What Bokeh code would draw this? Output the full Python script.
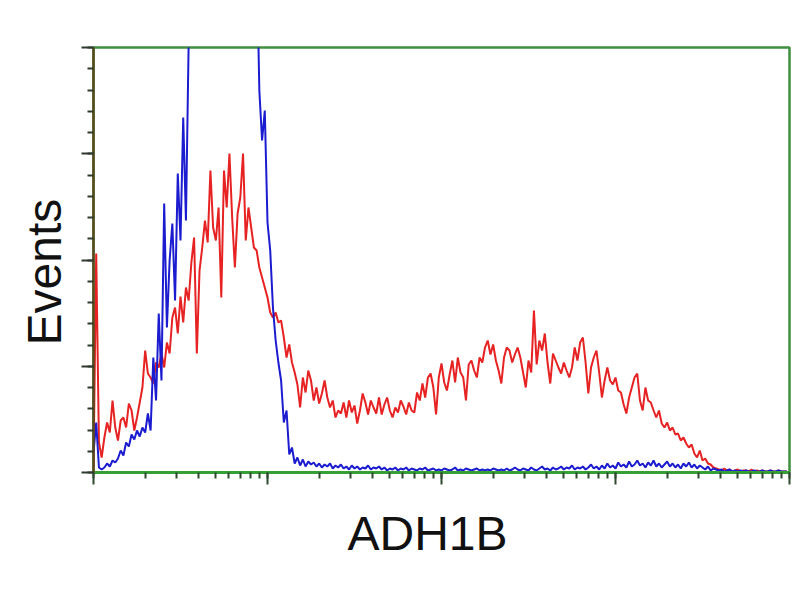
from bokeh.plotting import figure
from bokeh.models import FixedTicker, Range1d, CustomJSTickFormatter, Title
from bokeh.embed import file_html
from bokeh.resources import INLINE

x_label = "ADH1B"
y_label = "Events"
channels_per_decade = 64
n_decades = 4
y_max = 425
y_major = [0, 106.25, 212.5, 318.75, 425]
y_minor_step = 21.25

red_counts = [
    5, 219, 30, 15, 35, 50, 40, 72, 45, 32, 52, 55, 45, 69, 62, 42,
    55, 70, 85, 122, 99, 95, 89, 110, 105, 119, 105, 130, 119, 155, 165, 139,
    176, 150, 185, 172, 210, 235, 119, 202, 225, 252, 230, 302, 245, 232, 265, 175,
    302, 265, 319, 255, 205, 259, 275, 319, 232, 265, 245, 225, 222, 205, 195, 185,
    175, 160, 155, 160, 150, 152, 135, 115, 128, 110, 100, 88, 65, 95, 80, 102,
    92, 72, 85, 69, 79, 92, 75, 65, 72, 55, 62, 59, 70, 55, 72, 60,
    67, 49, 62, 79, 70, 58, 72, 65, 59, 75, 58, 68, 75, 62, 55, 65,
    60, 72, 66, 58, 70, 62, 60, 80, 72, 89, 75, 95, 99, 85, 58, 95,
    109, 90, 82, 98, 112, 90, 115, 100, 95, 72, 108, 112, 102, 95, 115, 110,
    125, 132, 118, 128, 112, 102, 89, 115, 125, 122, 110, 118, 125, 115, 100, 85,
    112, 100, 162, 108, 132, 122, 139, 110, 89, 119, 112, 105, 99, 110, 102, 95,
    105, 125, 112, 130, 135, 110, 79, 105, 115, 122, 100, 75, 92, 105, 92, 88,
    95, 82, 80, 68, 59, 75, 85, 95, 99, 72, 62, 85, 72, 70, 62, 55,
    62, 49, 45, 50, 42, 45, 38, 39, 32, 35, 29, 25, 28, 19, 15, 22,
    12, 14, 9, 8, 5, 4, 3, 2, 4, 2, 3, 1, 2, 3, 1, 2,
    2, 1, 3, 1, 2, 1, 2, 1, 1, 2, 1, 1, 2, 1, 1, 1,
]

blue_counts = [
    20, 50, 5, 3, 5, 9, 6, 12, 10, 14, 22, 17, 30, 26, 38, 33,
    42, 36, 45, 40, 59, 42, 115, 72, 159, 92, 269, 145, 212, 249, 172, 299,
    232, 355, 252, 430, 520, 610, 680, 740, 790, 830, 860, 900, 880, 910, 930, 900,
    920, 940, 910, 890, 900, 870, 850, 820, 780, 740, 690, 620, 520, 382, 332, 362,
    250, 222, 165, 132, 110, 92, 50, 62, 18, 25, 9, 15, 7, 13, 6, 11,
    8, 10, 6, 9, 5, 8, 6, 9, 4, 7, 5, 8, 4, 6, 3, 7,
    4, 6, 3, 5, 4, 7, 3, 5, 4, 6, 3, 5, 2, 4, 3, 5,
    2, 4, 3, 5, 2, 4, 3, 2, 4, 3, 5, 2, 3, 4, 2, 3,
    2, 4, 3, 2, 3, 5, 2, 3, 2, 4, 3, 2, 3, 4, 2, 3,
    2, 3, 2, 4, 3, 2, 3, 2, 4, 2, 3, 5, 3, 2, 4, 3,
    2, 5, 3, 2, 4, 6, 3, 4, 2, 5, 3, 4, 6, 3, 5, 4,
    7, 3, 5, 4, 6, 3, 5, 8, 4, 6, 3, 7, 4, 9, 5, 7,
    4, 10, 6, 8, 5, 11, 6, 8, 12, 7, 9, 5, 10, 7, 12, 6,
    9, 5, 8, 11, 6, 9, 5, 8, 4, 9, 6, 10, 5, 8, 4, 7,
    5, 3, 6, 2, 4, 3, 2, 3, 1, 2, 3, 1, 2, 1, 2, 1,
    2, 1, 1, 2, 1, 1, 2, 1, 1, 2, 1, 1, 2, 1, 1, 1,
]

red_x = [10 ** (i / channels_per_decade) for i in range(len(red_counts))]
blue_x = [10 ** (i / channels_per_decade) for i in range(len(blue_counts))]

p = figure(
    width=792, height=592,
    x_axis_type="log",
    x_range=Range1d(1, 10 ** n_decades),
    y_range=Range1d(0, y_max),
    output_backend="svg", toolbar_location=None,
    min_border_left=93, min_border_right=3, min_border_top=47, min_border_bottom=120,
)
p.background_fill_color = "white"
p.border_fill_color = "white"
p.xgrid.visible = False
p.ygrid.visible = False
p.outline_line_color = "#3f8f3f"
p.outline_line_width = 2.5

p.line(red_x, red_counts, line_color="#e62222", line_width=2)
p.line(blue_x, blue_counts, line_color="#1b1bd0", line_width=2)

# y axis
nminor = int(round(y_max / y_minor_step))
p.yaxis.ticker = FixedTicker(ticks=y_major, minor_ticks=[y_minor_step * k for k in range(nminor + 1)])
p.yaxis.formatter = CustomJSTickFormatter(code="return ''")
p.yaxis.axis_line_color = "#5b4a20"
p.yaxis.axis_line_width = 2.5
p.yaxis.major_tick_line_color = "#2e3a2e"
p.yaxis.minor_tick_line_color = "#2e3a2e"
p.yaxis.major_tick_line_width = 2
p.yaxis.minor_tick_line_width = 2
p.yaxis.major_tick_in = 0
p.yaxis.major_tick_out = 12
p.yaxis.minor_tick_in = 0
p.yaxis.minor_tick_out = 6
p.yaxis.major_label_text_font_size = "1px"
p.yaxis.major_label_standoff = 0

# x axis
p.xaxis.formatter = CustomJSTickFormatter(code="return ''")
p.xaxis.axis_line_color = "#36a036"
p.xaxis.axis_line_width = 3
p.xaxis.major_tick_line_color = "#2e4a2e"
p.xaxis.minor_tick_line_color = "#2e4a2e"
p.xaxis.major_tick_line_width = 2
p.xaxis.minor_tick_line_width = 2
p.xaxis.major_tick_in = 0
p.xaxis.major_tick_out = 12
p.xaxis.minor_tick_in = 0
p.xaxis.minor_tick_out = 6
p.xaxis.major_label_text_font_size = "1px"
p.xaxis.major_label_standoff = 0

# axis titles
p.add_layout(Title(
    text=x_label, align="left", offset=254, standoff=41,
    text_font="Liberation Sans", text_font_size="48px", text_font_style="normal",
    text_color="#111111",
), "below")
p.add_layout(Title(
    text=y_label, align="left", offset=127, standoff=22,
    text_font="Liberation Sans", text_font_size="48px", text_font_style="normal",
    text_color="#111111",
), "left")

open("out.html", "w").write(file_html(p, INLINE))
